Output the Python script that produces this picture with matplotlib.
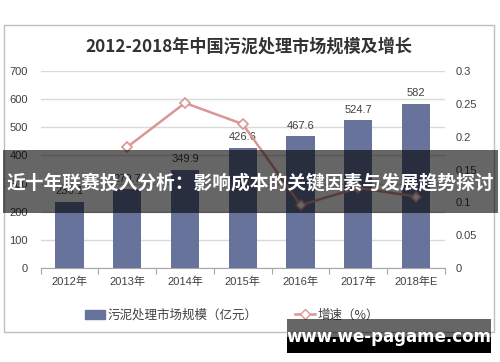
import matplotlib
matplotlib.use("Agg")
import matplotlib.pyplot as plt
from matplotlib.patches import Rectangle
from matplotlib.lines import Line2D

plt.rcParams['font.family'] = ['Liberation Sans', 'Noto Sans CJK SC', 'DejaVu Sans']

categories = ["2012年", "2013年", "2014年", "2015年", "2016年", "2017年", "2018年E"]
market_size = [236.1, 279.7, 349.9, 426.6, 467.6, 524.7, 582]
size_labels = ["236.1", "279.7", "349.9", "426.6", "467.6", "524.7", "582"]
growth_years = [1, 2, 3, 4, 5, 6]
growth_rate = [0.184, 0.251, 0.219, 0.096, 0.122, 0.109]
left_ticks = [0, 100, 200, 300, 400, 500, 600, 700]
right_ticks = [0, 0.05, 0.1, 0.15, 0.2, 0.25, 0.3]
right_tick_labels = ["0", "0.05", "0.1", "0.15", "0.2", "0.25", "0.3"]

W, H = 500, 362
fig = plt.figure(figsize=(W / 100, H / 100), dpi=100)

def fx(x):
    return x / W

def fy(y):
    return 1 - y / H

BAR = '#67739b'
LINE = '#d99694'
TXT = '#404040'

# outer frame
fig.patches.append(Rectangle((fx(4), fy(332)), fx(490), 307 / H, transform=fig.transFigure,
                             fill=False, edgecolor='#bfbfbf', lw=1.0, zorder=0))

left, right, top, bottom = 40.5, 445, 70.7, 268.3
ax = fig.add_axes([fx(left), fy(bottom), (right - left) / W, (bottom - top) / H])
ax.set_xlim(-0.5, 6.5)
ax.set_ylim(0, 700)
ax.set_yticks(left_ticks)
ax.yaxis.grid(True, color='#d9d9d9', lw=1.0)
ax.set_axisbelow(True)
for s in ['top', 'right', 'left']:
    ax.spines[s].set_visible(False)
ax.spines['bottom'].set_color('#a6a6a6')
ax.tick_params(axis='y', length=0, labelsize=8, labelcolor=TXT, pad=9)
ax.set_xticks([i - 0.5 for i in range(8)], minor=False)
ax.set_xticklabels([])
ax.tick_params(axis='x', which='major', direction='out', length=4, color='#a6a6a6')
ax.set_xticks(range(7), minor=True)
ax.set_xticklabels(categories, minor=True)
ax.tick_params(axis='x', which='minor', length=0, labelsize=8, labelcolor=TXT, pad=6)

bars = ax.bar(range(7), market_size, width=0.49, color=BAR, zorder=2)
for i, (v, lab) in enumerate(zip(market_size, size_labels)):
    ax.annotate(lab, (i, v), xytext=(0, 4), textcoords='offset points',
                ha='center', va='bottom', fontsize=8, color=TXT)

ax2 = ax.twinx()
ax2.set_ylim(0, 0.3)
ax2.set_yticks(right_ticks)
ax2.set_yticklabels(right_tick_labels)
for s in ['top', 'right', 'left', 'bottom']:
    ax2.spines[s].set_visible(False)
ax2.tick_params(axis='y', length=0, labelsize=8, labelcolor=TXT, pad=8)
ax2.plot(growth_years, growth_rate, color=LINE, lw=1.8, marker='D', markersize=5.5,
         markerfacecolor='white', markeredgecolor=LINE, markeredgewidth=1.2, zorder=3)

# title
fig.text(fx(249), fy(47), "2012-2018年中国污泥处理市场规模及增长", ha='center', va='center',
         fontsize=12.3, fontweight='bold', color='#333333', family=['Noto Sans CJK SC', 'DejaVu Sans'])

# legend
h1 = Rectangle((0, 0), 1, 1, color=BAR)
h2 = Line2D([], [], color=LINE, lw=1.8, marker='D', markersize=5, markerfacecolor='white',
            markeredgecolor=LINE)
fig.legend([h1, h2], ["污泥处理市场规模（亿元）", "增速（%）"], loc='center',
           bbox_to_anchor=(fx(232), fy(315)), ncol=2, frameon=False,
           handlelength=1.6, handletextpad=0.2, columnspacing=3.0,
           prop={'family': ['Noto Sans CJK SC'], 'size': 9}, labelcolor=TXT)

# banner overlay
fig.patches.append(Rectangle((fx(3), fy(212.7)), fx(495), 62.7 / H, transform=fig.transFigure,
                             facecolor='black', alpha=0.6, edgecolor='none', zorder=10))
fig.text(fx(250), fy(183), "近十年联赛投入分析：影响成本的关键因素与发展趋势探讨", ha='center', va='center',
         fontsize=13.5, fontweight='bold', color='white', zorder=11,
         family=['Noto Sans CJK SC', 'DejaVu Sans'])

# watermark
fig.patches.append(Rectangle((fx(287), fy(353)), fx(204), 34 / H, transform=fig.transFigure,
                             facecolor='black', alpha=0.6, edgecolor='none', zorder=10))
fig.patches.append(Rectangle((fx(287), fy(353)), fx(204), 16.3 / H, transform=fig.transFigure,
                             facecolor='black', edgecolor='none', zorder=10))
fig.text(fx(389), fy(337), "www.we-pagame.com", ha='center', va='center', fontsize=12,
         fontweight='bold', color='white', zorder=11, family=['DejaVu Sans'])

fig.savefig("out.png", dpi=100)
